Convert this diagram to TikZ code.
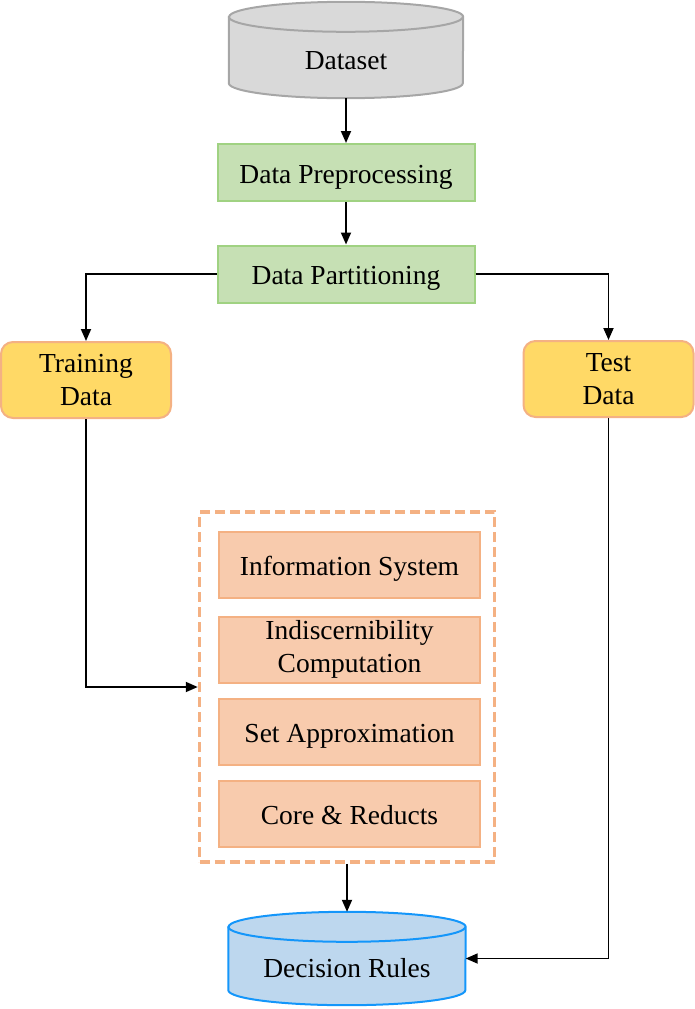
\documentclass[tikz,border=0pt]{standalone}
\usepackage{fontspec}
\setmainfont{Liberation Serif}
\usetikzlibrary{arrows.meta,backgrounds}
\definecolor{dbgray}{RGB}{217,217,217}
\definecolor{dbgrayline}{RGB}{166,166,166}
\definecolor{stepgreen}{RGB}{198,224,180}
\definecolor{stepgreenline}{RGB}{160,210,130}
\definecolor{setyellow}{RGB}{255,217,102}
\definecolor{peachline}{RGB}{244,177,131}
\definecolor{roughpeach}{RGB}{248,203,173}
\definecolor{rulesblue}{RGB}{189,215,238}
\definecolor{rulesline}{RGB}{20,150,250}
\newcommand{\dbshape}[4]{%
  \begin{pgfonlayer}{background}
  \draw [fill=#3, draw=#4, line width=2pt] ([yshift=-15pt]#1.north west) -- ([yshift=15pt]#1.south west)
    arc [start angle=180, end angle=360, x radius=#2, y radius=15pt] -- ([yshift=-15pt]#1.north east)
    arc [start angle=0, end angle=180, x radius=#2, y radius=15pt] -- cycle;
  \draw [draw=#4, line width=2pt] ([yshift=-15pt]#1.north west) arc [start angle=180, end angle=360, x radius=#2, y radius=15pt];
  \end{pgfonlayer}}
\begin{document}
\begin{tikzpicture}[x=1pt,y=-1pt]
  \tikzstyle{every node}+=[inner sep=0pt, align=center, font=\fontsize{27.5}{33}\selectfont]
  \tikzstyle{db}=[rectangle, text height=38pt, text depth=0pt]
  \tikzstyle{oneline}=[text height=21pt, text depth=0pt]
  \tikzstyle{stepbox}=[draw=stepgreenline, fill=stepgreen, line width=2pt, minimum width=257, minimum height=57]
  \tikzstyle{setbox}=[draw=peachline, fill=setyellow, line width=2pt, rounded corners=12pt, minimum width=170, minimum height=76]
  \tikzstyle{roughbox}=[draw=peachline, fill=roughpeach, line width=2pt, minimum width=261, minimum height=66]
  \tikzstyle{link}=[black, line width=1.8pt, -{Triangle[length=12pt,width=10pt]}]
  \useasboundingbox (0,0) rectangle (695,1009);
  \node [db, minimum width=234, minimum height=96] (dataset) at (346,50) {Dataset};
  \dbshape{dataset}{117pt}{dbgray}{dbgrayline}
  \node [stepbox, oneline] (prep) at (346,172.5) {Data Preprocessing};
  \node [stepbox, oneline] (part) at (346,274) {Data Partitioning};
  \node [setbox] (train) at (86,380) {Training\\Data};
  \node [setbox] (test) at (608.5,379) {Test\\Data};
  \node [draw=peachline, dash pattern=on 10pt off 5pt, line width=3.5pt, minimum width=295, minimum height=350] (rough) at (347,687) {};
  \node [roughbox, oneline] (info) at (349.5,564.5) {Information System};
  \node [roughbox] (indisc) at (349.5,649.5) {Indiscernibility\\Computation};
  \node [roughbox, oneline] (approx) at (349.5,732) {Set Approximation};
  \node [roughbox, oneline] (core) at (349.5,814) {Core \& Reducts};
  \node [db, minimum width=237, minimum height=93] (rules) at (347,958.5) {Decision Rules};
  \dbshape{rules}{118.5pt}{rulesblue}{rulesline}
  \draw [link] (dataset.south) -- (prep.north);
  \draw [link] (prep.south) -- (part.north);
  \draw [link] (part.west) -| (train.north);
  \draw [link] (part.east) -| (test.north);
  \draw [link] (train.south) |- (rough.west);
  \draw [link] (rough.south) -- (rules.north);
  \draw [link] (test.south) |- (rules.east);
\end{tikzpicture}
\end{document}
